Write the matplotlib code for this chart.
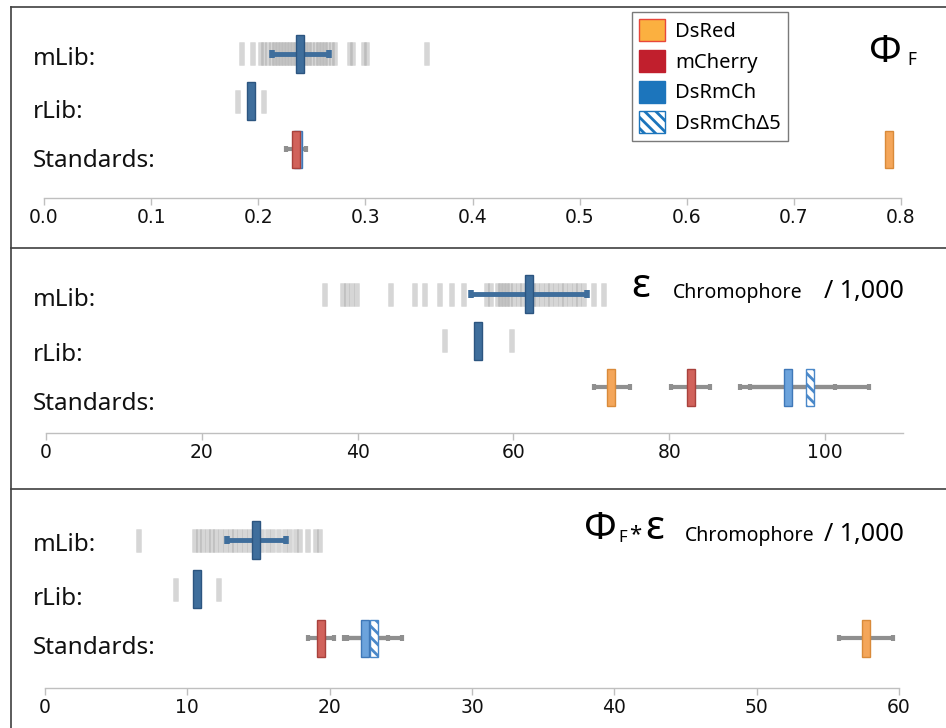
import matplotlib
matplotlib.use("Agg")
import matplotlib.pyplot as plt
from matplotlib.patches import Patch
from matplotlib.lines import Line2D
import numpy as np

plt.rcParams['font.family'] = ['Noto Sans', 'DejaVu Sans']
plt.rcParams['hatch.linewidth'] = 2.0

W, H = 946, 728
nan = np.nan

# ---------------- data ----------------
row_labels = ["mLib:", "rLib:", "Standards:"]
proteins = ["DsRed", "mCherry", "DsRmCh", "DsRmChΔ5"]

# Panel 1: fluorescence quantum yield
qy_ticks = [0.0, 0.1, 0.2, 0.3, 0.4, 0.5, 0.6, 0.7, 0.8]
qy_tick_labels = ["0.0", "0.1", "0.2", "0.3", "0.4", "0.5", "0.6", "0.7", "0.8"]
qy_mlib = [0.184, 0.195, 0.202, 0.205, 0.209, 0.212, 0.215, 0.218, 0.221, 0.224,
           0.226, 0.229, 0.232, 0.235, 0.238, 0.241, 0.244, 0.247, 0.250, 0.253,
           0.256, 0.259, 0.262, 0.265, 0.268, 0.271, 0.285, 0.288, 0.298, 0.301, 0.357]
qy_mlib_mean = 0.239
qy_mlib_range = (0.2126, 0.266)
qy_rlib = [0.181, 0.205]
qy_rlib_mean = 0.193
qy_std_mean = [0.789, 0.235, 0.237, nan]
qy_std_lo = [nan, 0.226, nan, nan]
qy_std_hi = [nan, 0.245, nan, nan]

# Panel 2: extinction coefficient / 1,000
ec_ticks = [0, 20, 40, 60, 80, 100]
ec_tick_labels = ["0", "20", "40", "60", "80", "100"]
ec_mlib = [35.8, 38.1, 38.6, 39.2, 39.8, 44.2, 47.3, 48.6, 50.5, 52.1, 53.6, 56.6,
           57.1, 57.9, 58.3, 58.7, 59.1, 59.5, 60.0, 60.6, 61.2, 61.8, 62.4, 63.0,
           63.6, 64.2, 64.8, 65.4, 66.0, 66.6, 67.2, 67.8, 68.4, 69.0, 70.3, 71.5]
ec_mlib_mean = 62.0
ec_mlib_range = (54.6, 69.5)
ec_rlib = [51.2, 59.8]
ec_rlib_mean = 55.5
ec_std_mean = [72.5, 82.8, 95.2, 98.1]
ec_std_lo = [70.3, 80.2, 89.1, 90.4]
ec_std_hi = [74.9, 85.2, 101.3, 105.7]

# Panel 3: brightness = QY * EC / 1,000
br_ticks = [0, 10, 20, 30, 40, 50, 60]
br_tick_labels = ["0", "10", "20", "30", "40", "50", "60"]
br_mlib = [6.56, 10.5, 10.8, 11.1, 11.4, 11.7, 12.0, 12.3, 12.65, 13.0, 13.3, 13.7,
           14.0, 14.4, 14.8, 15.2, 15.6, 16.0, 16.4, 16.8, 17.2, 17.6, 17.9, 18.45,
           18.97, 19.3]
br_mlib_mean = 14.8
br_mlib_range = (12.8, 16.9)
br_rlib = [9.2, 12.2]
br_rlib_mean = 10.7
br_std_mean = [57.7, 19.4, 22.5, 23.1]
br_std_lo = [55.8, 18.5, 21.0, 21.2]
br_std_hi = [59.6, 20.3, 24.1, 25.1]

# ---------------- styles ----------------
gray_face = (0.6, 0.6, 0.6, 0.4)
gray_edge = (0.5, 0.5, 0.5, 0.12)
mean_face = '#3F6E9C'
mean_edge = '#2C5580'
err_gray = '#8F8F8F'
std_face = {"DsRed": '#F4A65A', "mCherry": '#D1625B', "DsRmCh": '#6CA3DC', "DsRmChΔ5": 'white'}
std_edge = {"DsRed": '#D98A3A', "mCherry": '#A8413C', "DsRmCh": '#3F78B8', "DsRmChΔ5": '#4A88C9'}
std_hatch = {"DsRed": None, "mCherry": None, "DsRmCh": None, "DsRmChΔ5": '\\\\\\'}
tick_font = ['DejaVu Sans']

fig = plt.figure(figsize=(W / 100, H / 100), dpi=100)


def make_axes(l, r, t, b, xlim, ticks, labels):
    ax = fig.add_axes([l / W, 1 - b / H, (r - l) / W, (b - t) / H])
    ax.set_xlim(*xlim)
    ax.set_ylim(b, t)  # y data == pixel rows
    for s in ['top', 'left', 'right']:
        ax.spines[s].set_visible(False)
    ax.spines['bottom'].set_color('#BFBFBF')
    ax.spines['bottom'].set_linewidth(1.0)
    ax.set_yticks([])
    ax.set_xticks(ticks)
    ax.set_xticklabels(labels, family=tick_font, fontsize=13.5, color='#111111')
    ax.tick_params(axis='x', color='#BFBFBF', length=5, width=1, pad=2)
    ax.patch.set_alpha(0)
    return ax


def px2data(ax, npx):
    x0, x1 = ax.get_xlim()
    return npx * (x1 - x0) / (ax.get_position().width * W)


def vbar(ax, x, yc, wpx, h, face, edge, lw=1.0, hatch=None, z=3):
    ax.bar([x], [h], width=px2data(ax, wpx), bottom=yc - h / 2, color=face,
           edgecolor=edge, linewidth=lw, hatch=hatch, zorder=z)


def draw_panel(ax, rows, mlib, mlib_mean, mlib_range, rlib, rlib_mean,
               std_mean, std_lo, std_hi):
    y_m, y_r, y_s = rows
    for v in mlib:
        vbar(ax, v, y_m, 5, 23, gray_face, gray_edge, lw=0.6, z=2)
    ax.errorbar([mlib_mean], [y_m],
                xerr=[[mlib_mean - mlib_range[0]], [mlib_range[1] - mlib_mean]],
                fmt='none', ecolor=mean_face, elinewidth=3.5, capsize=3, capthick=4, zorder=3)
    vbar(ax, mlib_mean, y_m, 8, 38, mean_face, mean_edge, z=4)
    for v in rlib:
        vbar(ax, v, y_r, 5, 23, gray_face, gray_edge, lw=0.6, z=2)
    vbar(ax, rlib_mean, y_r, 8, 38, mean_face, mean_edge, z=4)
    for m, lo, hi in zip(std_mean, std_lo, std_hi):
        if np.isnan(m) or np.isnan(lo):
            continue
        ax.errorbar([m], [y_s], xerr=[[m - lo], [hi - m]], fmt='none', ecolor=err_gray,
                    elinewidth=3, capsize=2.5, capthick=3, zorder=3)
    order = ["DsRmChΔ5", "DsRmCh", "mCherry", "DsRed"]
    for z, name in enumerate(order):
        m = std_mean[proteins.index(name)]
        if np.isnan(m):
            continue
        vbar(ax, m, y_s, 8, 37, std_face[name], std_edge[name], lw=1.0,
             hatch=std_hatch[name], z=4 + z)


def ftext(xpx, ypx, s, **kw):
    fig.text(xpx / W, 1 - ypx / H, s, va='baseline', **kw)


# Panel 1
ax1 = make_axes(44, 901, 20, 198, (0, 0.8), qy_ticks, qy_tick_labels)
draw_panel(ax1, (54, 101, 149), qy_mlib, qy_mlib_mean, qy_mlib_range, qy_rlib,
           qy_rlib_mean, qy_std_mean, qy_std_lo, qy_std_hi)
# Panel 2
ax2 = make_axes(46, 903, 262, 433, (0, 110), ec_ticks, ec_tick_labels)
draw_panel(ax2, (294, 340.5, 387), ec_mlib, ec_mlib_mean, ec_mlib_range, ec_rlib,
           ec_rlib_mean, ec_std_mean, ec_std_lo, ec_std_hi)
# Panel 3
ax3 = make_axes(45, 899, 503, 688, (0, 60), br_ticks, br_tick_labels)
draw_panel(ax3, (540, 589, 638), br_mlib, br_mlib_mean, br_mlib_range, br_rlib,
           br_rlib_mean, br_std_mean, br_std_lo, br_std_hi)

# row labels
for base in [(65, 118, 167), (306, 361, 410), (551, 605, 654)]:
    for lab, y in zip(row_labels, base):
        ftext(33, y, lab, fontsize=17.5, color='#111111')

# panel titles
ftext(869, 62, 'Φ', fontsize=28, color='black')
ftext(907, 65, 'F', fontsize=12.5, color='black')

ftext(631, 297, 'ε', fontsize=29, color='black')
ftext(803, 298, 'Chromophore', fontsize=14, color='black', ha='right')
ftext(904, 298, '/ 1,000', fontsize=18, color='black', ha='right')

ftext(584, 539, 'Φ', fontsize=28, color='black')
ftext(618, 542, 'F', fontsize=12, color='black')
ftext(629, 540, '*', fontsize=16, color='black')
ftext(645, 539, 'ε', fontsize=29, color='black')
ftext(814, 541, 'Chromophore', fontsize=14, color='black', ha='right')
ftext(904, 541, '/ 1,000', fontsize=18, color='black', ha='right')

# legend
leg_face = {"DsRed": '#FBB040', "mCherry": '#C11F2D', "DsRmCh": '#1C75BC', "DsRmChΔ5": 'white'}
leg_edge = {"DsRed": '#E8473A', "mCherry": '#C11F2D', "DsRmCh": '#1C75BC', "DsRmChΔ5": '#1C75BC'}
handles = [Patch(facecolor=leg_face[p], edgecolor=leg_edge[p], hatch=std_hatch[p], linewidth=1.0)
           for p in proteins]
fig.legend(handles, proteins, loc='upper left', bbox_to_anchor=(632 / W, 1 - 12 / H),
           frameon=True, fancybox=False, edgecolor='#595959', fontsize=14.5,
           handlelength=1.3, handleheight=1.3, handletextpad=0.5, labelspacing=0.4,
           borderpad=0.35, borderaxespad=0)

# frame lines
lc = '#404040'
fig.add_artist(Line2D([11 / W, 1], [1 - 7 / H] * 2, transform=fig.transFigure, color=lc, lw=1.2))
fig.add_artist(Line2D([11 / W, 11 / W], [0, 1 - 7 / H], transform=fig.transFigure, color=lc, lw=1.2))
for y in (248, 489):
    fig.add_artist(Line2D([11 / W, 1], [1 - y / H] * 2, transform=fig.transFigure, color=lc, lw=1.2))

fig.savefig('out.png', dpi=100)
